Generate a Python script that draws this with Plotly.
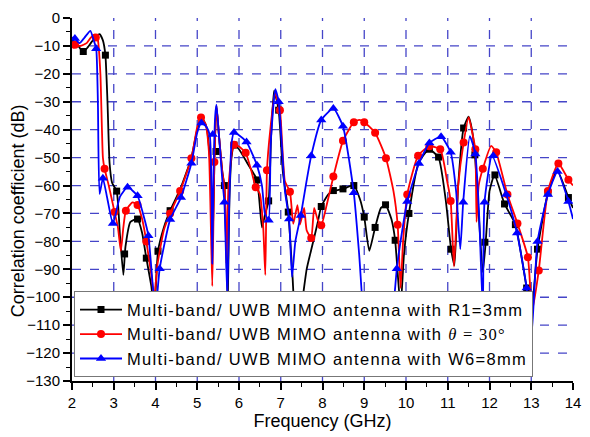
import plotly.graph_objects as go

# ---------------- data ----------------
r1_f = [2.00, 2.10, 2.20, 2.27, 2.35, 2.45, 2.55, 2.66, 2.74, 2.80, 2.85, 2.90, 2.96, 3.07, 3.15, 3.23, 3.28, 3.40,
        3.57, 3.68, 3.78, 3.90, 3.97, 4.06, 4.20, 4.35, 4.60, 4.86, 5.00, 5.12, 5.22, 5.30, 5.37, 5.42, 5.46, 5.52,
        5.60, 5.65, 5.70, 5.73, 5.77, 5.82, 5.88, 6.00, 6.20, 6.43, 6.55, 6.63, 6.71, 6.77, 6.84, 6.95, 7.05, 7.18,
        7.28, 7.35, 7.42, 7.50, 7.62, 7.73, 7.88, 7.97, 8.15, 8.30, 8.49, 8.75, 8.90, 9.00, 9.12, 9.26, 9.40, 9.51,
        9.65, 9.74, 9.87, 9.95, 10.07, 10.30, 10.55, 10.78, 10.95, 11.08, 11.16, 11.25, 11.38, 11.50, 11.58, 11.65,
        11.72, 11.84, 11.91, 12.00, 12.12, 12.36, 12.62, 12.89, 13.00, 13.15, 13.40, 13.62, 13.89, 14.00]
r1_db = [-8, -9, -11, -12, -11, -9, -7, -5.8, -8, -13.3, -30, -52, -59, -62, -78, -92, -82, -73,
         -72, -77, -86, -96, -105, -83.5, -75, -69, -61, -50, -40, -36, -39, -50, -80, -45, -31.5, -42,
         -55, -60, -85, -102, -65, -50, -45.5, -47, -52, -58, -75, -70, -65.5, -42, -26, -33, -55, -69.5,
         -92, -108, -110, -103, -90, -83, -73.6, -67.5, -63, -61.8, -61.2, -60, -65, -71.3, -83.4, -75, -68, -66.9,
         -72, -79.6, -103.7, -85, -70, -52, -47, -50, -65, -82.8, -88.6, -60, -39.4, -35.3, -40, -49,
         -65, -91, -80, -62, -56.2, -66.6, -74, -96.7, -106, -82.8, -62.6, -54.5, -64.3, -68]
r1_mk_f = [2.27, 2.80, 3.07, 3.26, 3.57, 3.78, 4.06, 4.35, 5.45, 5.65, 5.88, 6.43, 6.71, 6.95, 7.18, 7.97, 8.26,
           8.49, 8.75, 9.00, 9.26, 9.51, 9.74, 10.07, 10.56, 10.78, 11.08, 11.38, 11.65, 11.89, 12.13, 12.36, 12.62,
           12.89, 13.15, 13.40, 13.89]
r1_mk_db = [-12, -13.3, -62, -84.5, -72, -86, -83.5, -69, -47.8, -60, -45.5, -58, -65.5, -33, -69.5, -67.5, -61.8,
            -61.2, -60, -71.3, -75, -66.9, -79.6, -70, -47, -49.8, -82.8, -39.4, -49, -80.3, -56.2, -66.6, -74,
            -96.7, -82.8, -62.6, -64.3]

th_f = [2.00, 2.07, 2.20, 2.35, 2.45, 2.55, 2.62, 2.68, 2.74, 2.78, 2.88, 3.02, 3.10, 3.17, 3.23, 3.29, 3.45, 3.57,
        3.68, 3.78, 3.90, 3.97, 4.05, 4.20, 4.35, 4.59, 4.86, 5.00, 5.09, 5.20, 5.28, 5.36, 5.41, 5.46, 5.52, 5.60,
        5.66, 5.70, 5.75, 5.88, 6.00, 6.16, 6.30, 6.40, 6.50, 6.58, 6.63, 6.67, 6.75, 6.86, 6.98, 7.10, 7.22, 7.30,
        7.40, 7.46, 7.56, 7.62, 7.73, 7.80, 7.88, 7.97, 8.10, 8.26, 8.49, 8.75, 8.88, 9.00, 9.26, 9.52, 9.70, 9.80,
        9.87, 9.93, 10.03, 10.29, 10.56, 10.82, 10.98, 11.07, 11.15, 11.25, 11.38, 11.50, 11.60, 11.66, 11.69, 11.74,
        11.84, 12.04, 12.16, 12.43, 12.67, 12.92, 13.02, 13.18, 13.40, 13.65, 13.89, 14.00]
th_db = [-9, -9.6, -10, -9, -7, -6, -8, -20, -50, -54, -60, -69.5, -75, -83.4, -75, -69, -66, -67,
         -72, -80, -92, -100, -88, -76, -70, -62, -50.2, -39, -35.6, -38, -48, -96, -51.6, -31.5, -42, -55,
         -62, -88, -60, -45.4, -46, -48.3, -55, -60.6, -63, -75, -92, -54.5, -40, -27, -33, -58.5, -62.2, -73.7,
         -67, -74, -68, -76, -78.8, -68, -72, -74.2, -67, -56.8, -44, -37.3, -36.5, -37.3, -41.1, -50.2, -62, -74,
         -96.7, -80, -63.2, -49.3, -45.9, -47, -58, -65.5, -89, -60, -44.6, -35.5, -42, -47, -73, -60,
         -54, -45.8, -48.1, -63.2, -73.6, -85.7, -105, -90.4, -62, -52.1, -57.9, -60]
th_mk_f = [2.07, 2.57, 2.78, 3.02, 3.29, 3.57, 3.78, 4.35, 4.59, 4.86, 5.09, 5.41, 5.88, 6.16, 6.40, 6.67, 6.98,
           7.22, 7.73, 7.97, 8.26, 8.49, 8.75, 9.00, 9.26, 9.52, 9.80, 10.03, 10.29, 10.56, 10.82, 11.07, 11.38,
           11.66, 11.84, 12.16, 12.43, 12.67, 12.92, 13.18, 13.40, 13.65, 13.89]
th_mk_db = [-9.6, -7, -54, -69.5, -69, -67, -80, -70, -62, -50.2, -35.6, -51.6, -45.4, -48.3, -60.6, -54.5, -33,
            -62.2, -78.8, -74.2, -56.8, -44, -37.3, -37.3, -41.1, -50.2, -74, -63.2, -49.3, -45.9, -47, -65.5, -44.6,
            -47, -54, -48.1, -63.2, -73.6, -85.7, -90.4, -62, -52.1, -57.9]

w6_f = [2.00, 2.07, 2.18, 2.30, 2.44, 2.52, 2.58, 2.62, 2.66, 2.74, 2.85, 2.98, 3.15, 3.33, 3.57, 3.70, 3.83, 3.93,
        4.00, 4.10, 4.35, 4.61, 4.86, 5.00, 5.10, 5.22, 5.30, 5.34, 5.36, 5.39, 5.43, 5.46, 5.52, 5.60, 5.65, 5.72,
        5.76, 5.82, 5.88, 6.00, 6.18, 6.30, 6.43, 6.55, 6.62, 6.71, 6.76, 6.87, 6.95, 7.10, 7.20, 7.27, 7.35, 7.48,
        7.60, 7.73, 7.97, 8.26, 8.49, 8.75, 8.88, 9.00, 9.10, 9.23, 9.33, 9.45, 9.60, 9.72, 9.78, 9.90, 10.03, 10.31,
        10.56, 10.84, 11.07, 11.20, 11.30, 11.37, 11.53, 11.66, 11.75, 11.84, 11.88, 12.06, 12.40, 12.66, 12.89,
        13.00, 13.15, 13.40, 13.63, 13.89, 14.00]
w6_db = [-7, -7.3, -9, -7, -4.6, -8, -11, -30, -63, -57.4, -65, -73.6, -64, -60.6, -63.7, -70, -78, -95,
         -105, -89.8, -72.2, -64.3, -52, -41, -37.6, -39, -42, -60, -88, -55, -35, -31, -42, -58, -66, -100,
         -70, -45, -41, -42, -44.4, -48, -52.7, -60, -70, -72.4, -45, -25.5, -30, -62, -72, -92.7, -80, -70.7,
         -60, -49.3, -36.5, -32.4, -38.8, -62.6, -85, -108, -103, -99.7, -102, -112, -115, -100, -89.8, -77, -65.7, -52.1,
         -44.8, -42.5, -48.1, -62, -82.8, -66, -42.3, -48.7, -70, -105, -66, -49.3, -63.2, -77, -96.7,
         -115, -80, -63.2, -55, -65.7, -72]
w6_mk_f = [2.07, 2.58, 2.74, 2.98, 3.33, 3.57, 3.83, 4.10, 4.35, 4.61, 4.86, 5.10, 5.37, 5.65, 5.88, 6.18, 6.43,
           6.71, 6.95, 7.20, 7.48, 7.73, 7.97, 8.26, 8.49, 8.75, 9.23, 9.78, 10.03, 10.31, 10.56, 10.84, 11.07,
           11.37, 11.66, 11.88, 12.09, 12.40, 12.66, 12.89, 13.15, 13.40, 13.63, 13.89]
w6_mk_db = [-7.3, -11, -57.4, -73.6, -60.6, -63.7, -78, -89.8, -72.2, -64.3, -52, -37.6, -41.7, -66, -41, -44.4,
            -52.7, -72.4, -30, -72, -70.7, -49.3, -36.5, -32.4, -38.8, -62.6, -99.7, -89.8, -65.7, -52.1, -44.8,
            -42.5, -48.1, -66, -48.7, -66, -49.3, -63.2, -77, -96.7, -80, -63.2, -55, -65.7]

x_grid = [3, 4, 5, 6, 7, 8, 9, 10, 11, 12, 13]
y_grid = [-10, -20, -30, -40, -50, -60, -70, -80, -90, -100, -110, -120]

names = ["Multi-band/ UWB MIMO antenna with R1=3mm",
         'Multi-band/ UWB MIMO antenna with <span style="font-family:\'Liberation Serif\'"><i>θ</i> = 30°</span>',
         "Multi-band/ UWB MIMO antenna with W6=8mm"]

# ---------------- figure ----------------
series = [
    (r1_f, r1_db, r1_mk_f, r1_mk_db, "#000000", "square", 7),
    (th_f, th_db, th_mk_f, th_mk_db, "#ff0000", "circle", 8),
    (w6_f, w6_db, w6_mk_f, w6_mk_db, "#0000ff", "triangle-up", 9),
]

fig = go.Figure()
for (f, db, mf, mdb, col, sym, sz), nm in zip(series, names):
    fig.add_trace(go.Scatter(x=f, y=db, mode="lines", line=dict(color=col, width=1.8, shape="spline", smoothing=0.5),
                             showlegend=False, hoverinfo="skip"))
    fig.add_trace(go.Scatter(x=mf, y=mdb, mode="markers", marker=dict(color=col, symbol=sym, size=sz),
                             showlegend=False))
for (f, db, mf, mdb, col, sym, sz), nm in zip(series, names):
    fig.add_trace(go.Scatter(x=[None], y=[None], mode="lines+markers",
                             name='<span style="letter-spacing:1.3px">' + nm + '</span>',
                             line=dict(color=col, width=1.8), marker=dict(color=col, symbol=sym, size=sz)))

grid_style = dict(color="#4545c8", width=1.3, dash="dash")
shapes = []
for gx in x_grid:
    shapes.append(dict(type="line", xref="x", yref="y", x0=gx, x1=gx, y0=-130, y1=0, line=grid_style, layer="below"))
for gy in y_grid:
    shapes.append(dict(type="line", xref="x", yref="y", x0=2, x1=13.88, y0=gy, y1=gy, line=grid_style, layer="below"))

axis_common = dict(showline=True, linecolor="black", linewidth=2, ticks="outside", ticklen=7, tickwidth=1.5,
                   tickcolor="black", showgrid=False, zeroline=False, ticklabeloverflow="allow",
                   tickfont=dict(family="Liberation Sans, Arial", size=15, color="black"))

fig.update_layout(
    width=590, height=437,
    margin=dict(l=72, r=9, t=15, b=48),
    paper_bgcolor="white", plot_bgcolor="white",
    font=dict(family="Liberation Sans, Arial", color="black"),
    shapes=shapes,
    xaxis=dict(range=[2, 14], dtick=1, tick0=2,
               minor=dict(dtick=0.5, ticklen=4, ticks="outside", tickcolor="black", tickwidth=1.2),
               title=dict(text="Frequency (GHz)", font=dict(size=18), standoff=4), **axis_common),
    yaxis=dict(range=[-130, 0], dtick=10, tick0=0,
               minor=dict(dtick=5, ticklen=4, ticks="outside", tickcolor="black", tickwidth=1.2),
               **axis_common),
    annotations=[dict(text="Correlation coefficient (dB)", textangle=-90, xref="paper", yref="paper",
                      x=-0.108, y=0.47, xanchor="center", yanchor="middle", showarrow=False,
                      font=dict(size=18, family="Liberation Sans, Arial", color="black"))],
    legend=dict(x=0.004, y=0.01, xanchor="left", yanchor="bottom", bgcolor="white",
                bordercolor="#777777", borderwidth=1, font=dict(size=16.5, family="Liberation Sans, Arial"),
                itemwidth=42, tracegroupgap=0),
)

fig.write_html("out.html")
